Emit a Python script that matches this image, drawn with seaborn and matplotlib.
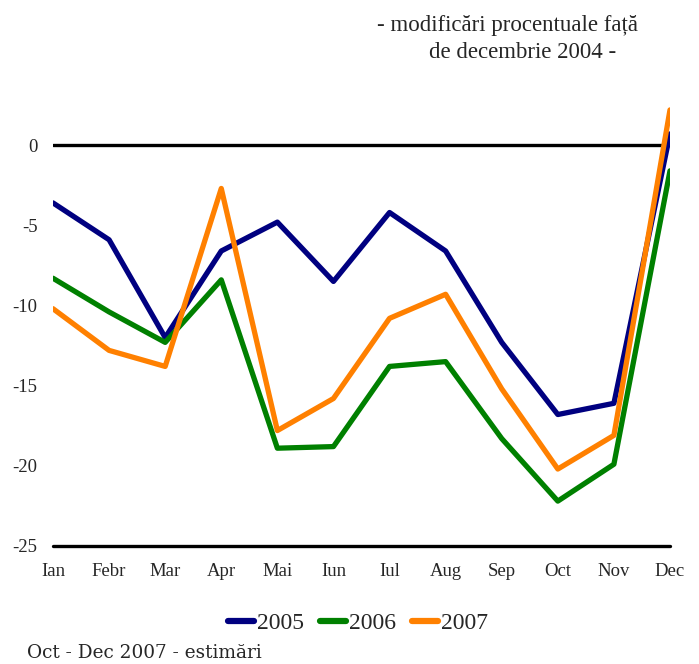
import pandas as pd
import matplotlib
matplotlib.use("Agg")
import matplotlib.pyplot as plt
import seaborn as sns

# values (% change vs Dec 2004)
months = ["Ian", "Febr", "Mar", "Apr", "Mai", "Iun", "Iul", "Aug", "Sep", "Oct", "Nov", "Dec"]
v2005 = [-3.6, -5.9, -12.0, -6.6, -4.8, -8.5, -4.2, -6.6, -12.3, -16.8, -16.1, 0.7]
v2006 = [-8.3, -10.4, -12.3, -8.4, -18.9, -18.8, -13.8, -13.5, -18.3, -22.2, -19.9, -1.6]
v2007 = [-10.2, -12.8, -13.8, -2.7, -17.8, -15.8, -10.8, -9.3, -15.2, -20.2, -18.1, 2.2]
years = ["2005", "2006", "2007"]
colors = {"2005": "#000080", "2006": "#008000", "2007": "#FF8000"}

rows = []
for yr, vals in zip(years, [v2005, v2006, v2007]):
    for i, v in enumerate(vals):
        rows.append({"idx": i, "val": v, "an": yr})
df = pd.DataFrame(rows)

sns.set_style("white")
plt.rcParams["font.family"] = ["Liberation Serif", "DejaVu Serif"]
plt.rcParams["axes.unicode_minus"] = False

fig = plt.figure(figsize=(6.99, 6.64), dpi=100)
ax = fig.add_axes([53 / 699, 118 / 664, 617 / 699, 481 / 664])

ax.axhline(0, color="black", lw=2.4, zorder=1)
ax.axhline(-25, color="black", lw=2.4, zorder=1, clip_on=False)

sns.lineplot(data=df, x="idx", y="val", hue="an", palette=colors, sort=False,
             lw=3.8, ax=ax, zorder=3, legend=False)

ax.set_xlim(0, 11)
ax.set_ylim(-25, 5)
ax.set_xticks(range(len(months)))
ax.set_xticklabels(months)
ax.set_yticks([0, -5, -10, -15, -20, -25])
ax.tick_params(axis="x", length=0, pad=12, labelsize=13.5)
ax.tick_params(axis="y", length=0, pad=11, labelsize=13.5)
ax.set_xlabel("")
ax.set_ylabel("")
for s in ax.spines.values():
    s.set_visible(False)

fig.text(508 / 699, 1 - 25 / 664, "- modificări procentuale față", ha="center", va="center", fontsize=16.5)
fig.text(523 / 699, 1 - 52 / 664, "de decembrie 2004 -", ha="center", va="center", fontsize=16.5)

handles = [plt.Line2D([0], [0], color=colors[y], lw=4.5, solid_capstyle="round") for y in years]
fig.legend(handles, years, loc="center", bbox_to_anchor=(358 / 699, 1 - 623 / 664), ncol=3,
           frameon=False, fontsize=17, handlelength=1.1, handletextpad=0.1, columnspacing=0.7)

fig.text(27 / 699, 1 - 653 / 664, "Oct - Dec 2007 - estimări", ha="left", va="center",
         fontsize=13.3, family="DejaVu Serif")

fig.savefig("out.png", dpi=100)
